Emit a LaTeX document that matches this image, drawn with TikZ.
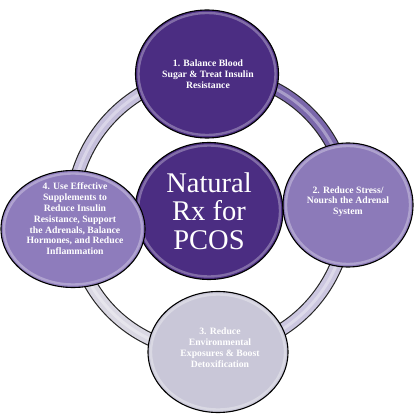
\documentclass[tikz,border=0pt]{standalone}
\usepackage{fontspec}
\setmainfont{Liberation Serif}
\usetikzlibrary{shapes.geometric,backgrounds}
\definecolor{dkpurple}{HTML}{4B2D82}
\definecolor{mdpurple}{HTML}{8C7AB9}
\definecolor{lfpurple}{HTML}{8E7CBC}
\definecolor{ltgray}{HTML}{C9C7D8}
\definecolor{ringA}{HTML}{7A67AB}
\definecolor{ringB}{HTML}{CCC7E0}
\definecolor{ringC}{HTML}{DAD8E3}
\definecolor{ringD}{HTML}{C6C0DC}
\begin{document}
\begin{tikzpicture}[x=1pt,y=1pt,
  bubble/.style={ellipse, draw=black, line width=1.1pt, inner sep=0pt},
  rim/.style={line width=2.4pt, draw opacity=0.5},
  ringout/.style={line width=13.5pt, draw=black!85},
  ringin/.style={line width=11.2pt},
  ringhi/.style={line width=3pt, draw=white, draw opacity=0.35},
  txt/.style={text=white, font=\bfseries\fontsize{9.7}{10.8}\selectfont, align=center, inner sep=0pt},
  bigtxt/.style={text=white, font=\fontsize{28.5}{28.5}\selectfont, align=center, inner sep=0pt}
]
\useasboundingbox (0,0) rectangle (414,418);
% centre and outer circles
\node[bubble, fill=dkpurple, minimum width=148, minimum height=137] (ctr) at (209,207) {};
\draw[rim, draw=white!60!dkpurple] (ctr.center) ellipse [x radius=71, y radius=65.5];
\node[bubble, fill=dkpurple, minimum width=143, minimum height=128] (n1) at (207,344) {};
\draw[rim, draw=white!60!dkpurple] (n1.center) ellipse [x radius=68.5, y radius=61];
\node[bubble, fill=mdpurple, minimum width=130, minimum height=124] (n2) at (348,213) {};
\draw[rim, draw=white!60!mdpurple] (n2.center) ellipse [x radius=62, y radius=59];
\node[bubble, fill=ltgray, minimum width=140, minimum height=121] (n3) at (218,66) {};
\draw[rim, draw=white!60!ltgray] (n3.center) ellipse [x radius=67, y radius=57.5];
\node[bubble, fill=lfpurple, minimum width=144, minimum height=117] (n4) at (73,189) {};
\draw[rim, draw=white!60!lfpurple] (n4.center) ellipse [x radius=69, y radius=55.5];
% ring behind everything
\begin{scope}[on background layer]
  \fill[white] (0,0) rectangle (414,418);
  \draw[ringout] (n1.center) to[bend left=46] (n2.center);
  \draw[ringin, draw=ringA] (n1.center) to[bend left=46] (n2.center);
  \draw[ringhi] (n1.center) to[bend left=46] (n2.center);
  \draw[ringout] (n2.center) to[bend left=42] (n3.center);
  \draw[ringin, draw=ringB] (n2.center) to[bend left=42] (n3.center);
  \draw[ringhi] (n2.center) to[bend left=42] (n3.center);
  \draw[ringout] (n3.center) to[bend left=44] (n4.center);
  \draw[ringin, draw=ringC] (n3.center) to[bend left=44] (n4.center);
  \draw[ringhi] (n3.center) to[bend left=44] (n4.center);
  \draw[ringout] (n4.center) to[bend left=48] (n1.center);
  \draw[ringin, draw=ringD] (n4.center) to[bend left=48] (n1.center);
  \draw[ringhi] (n4.center) to[bend left=48] (n1.center);
\end{scope}
% texts
\node[bigtxt] (tc) at (209,207) {Natural\\Rx for\\PCOS};
\node[txt] (t1) at (208,344) {1. Balance Blood\\Sugar \& Treat Insulin\\Resistance};
\node[txt] (t2) at (348,216.5) {2. Reduce Stress/\\Noursh the Adrenal\\System};
\node[txt] (t3) at (220,70.5) {3. Reduce\\Environmental\\Exposures \& Boost\\Detoxification};
\node[txt] (t4) at (75,199) {4. Use Effective\\Supplements to\\Reduce Insulin\\Resistance, Support\\the Adrenals, Balance\\Hormones, and Reduce\\Inflammation};
\end{tikzpicture}
\end{document}
